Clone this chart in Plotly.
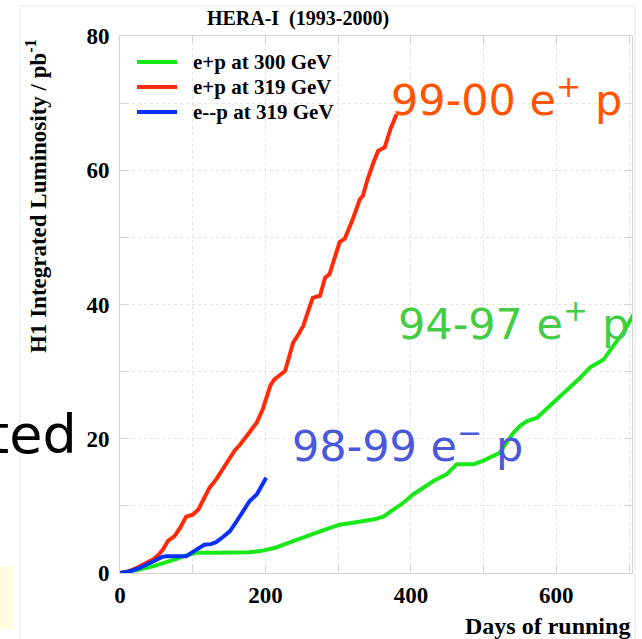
import plotly.graph_objects as go

# ---------------- data ----------------
red_days = [0, 8, 20, 36, 45, 52, 59, 66, 75, 83, 91, 100, 108, 115, 123, 132, 141, 151, 158,
            165, 176, 188, 196, 201, 207, 212, 220, 227, 232, 238, 245, 252, 258, 265, 275,
            282, 288, 295, 302, 309, 315, 320, 326, 330, 334, 340, 348, 355, 364, 368, 372,
            376, 380]
red_lumi = [0, 0.1, 0.6, 1.5, 2.0, 2.6, 3.5, 4.8, 5.5, 6.8, 8.4, 8.7, 9.5, 11.0, 12.7, 13.9,
            15.4, 17.2, 18.3, 19.1, 20.6, 22.4, 24.3, 25.9, 28.0, 28.8, 29.4, 30.1, 32.0, 34.3,
            35.5, 36.8, 38.8, 41.0, 41.3, 44.0, 44.5, 47.0, 49.3, 49.8, 51.3, 52.7, 54.5, 55.7,
            56.2, 58.5, 61.0, 62.9, 63.4, 65.0, 66.2, 67.2, 68.3]

blue_days = [0, 15, 27, 40, 50, 58, 64, 91, 98, 105, 116, 125, 132, 142, 151, 158, 165, 172,
             178, 188, 195, 201]
blue_lumi = [0, 0.3, 0.75, 1.5, 2.1, 2.4, 2.5, 2.5, 3.0, 3.5, 4.2, 4.3, 4.6, 5.4, 6.2, 7.3,
             8.4, 9.6, 10.7, 11.7, 13.0, 14.2]

green_days = [0, 15, 27, 45, 58, 68, 78, 87, 96, 105, 130, 155, 178, 195, 206, 215, 224, 235,
              247, 260, 275, 288, 302, 320, 334, 350, 362, 375, 390, 403, 416, 431, 449, 457,
              463, 475, 486, 499, 512, 522, 532, 541, 550, 559, 573, 584, 596, 608, 619, 632,
              646, 665, 678, 692, 706]
green_lumi = [0, 0.2, 0.5, 1.0, 1.4, 1.7, 2.1, 2.5, 2.8, 3.0, 3.0, 3.0, 3.1, 3.3, 3.5, 3.8,
              4.2, 4.6, 5.0, 5.6, 6.2, 6.7, 7.2, 7.5, 7.7, 8.0, 8.4, 9.4, 10.5, 11.7, 12.6,
              13.7, 14.7, 15.5, 16.2, 16.2, 16.2, 16.7, 17.4, 17.9, 19.5, 20.9, 21.9, 22.6,
              23.1, 24.2, 25.4, 26.5, 27.6, 29.0, 30.6, 31.8, 33.8, 35.8, 38.5]

series_names = ["e+p at 300 GeV", "e+p at 319 GeV", "e--p at 319 GeV"]
series_colors = ["#18e818", "#ff2a08", "#0a30ff"]
period_labels = ["99-00 e<sup>+</sup> p", "94-97 e<sup>+</sup> p", "98-99 e<sup>\u2212</sup> p"]
x_ticks = [0, 200, 400, 600]
y_ticks = [0, 20, 40, 60, 80]

# ---------------- layout geometry ----------------
W, H = 642, 639
L, R, T, B = 120, 10, 36, 66
PW, PH = W - L - R, H - T - B


def px(x):
    return (x - L) / PW


def py(y):
    return (H - B - y) / PH


serif = "Liberation Serif"

fig = go.Figure()
for xs, ys, nm, col in [(green_days, green_lumi, series_names[0], series_colors[0]),
                        (red_days, red_lumi, series_names[1], series_colors[1]),
                        (blue_days, blue_lumi, series_names[2], series_colors[2])]:
    fig.add_trace(go.Scatter(x=xs, y=ys, mode="lines", name=nm, showlegend=False,
                             line=dict(color=col, width=4)))

axis_common = dict(
    showline=True, linecolor="#d4d4d4", linewidth=1, mirror="allticks",
    ticks="inside", ticklen=8, tickcolor="#d4d4d4",
    showgrid=True, gridcolor="#e2e2e2", griddash="dot", gridwidth=1,
    zeroline=False,
    tickfont=dict(family=serif, size=23, color="black", weight="bold"),
)

fig.update_layout(
    width=W, height=H,
    margin=dict(l=L, r=R, t=T, b=B),
    paper_bgcolor="white", plot_bgcolor="white",
    title=dict(text="HERA-I  (1993-2000)", xref="paper", x=px(298), xanchor="center",
               yref="container", y=1 - 17.5 / H, yanchor="middle",
               font=dict(family=serif, size=20, color="black", weight="bold")),
    xaxis=dict(range=[0, 704], tickvals=x_ticks, ticklabelstandoff=1,
               minor=dict(dtick=100, ticks="inside", ticklen=8, tickcolor="#d4d4d4",
                          showgrid=True, gridcolor="#e2e2e2", griddash="dot"),
               **axis_common),
    yaxis=dict(range=[0, 80], tickvals=y_ticks, ticklabelstandoff=5,
               minor=dict(dtick=10, ticks="inside", ticklen=8, tickcolor="#d4d4d4",
                          showgrid=True, gridcolor="#e2e2e2", griddash="dot"),
               **axis_common),
    showlegend=False,
)

# legend (drawn by hand to match the compact row spacing)
legend_rows = [62, 87, 112]
for nm, col, ry in zip(series_names, series_colors, legend_rows):
    fig.add_shape(type="line", xref="paper", yref="paper", x0=px(137), x1=px(177),
                  y0=py(ry), y1=py(ry), line=dict(color=col, width=4))
    fig.add_annotation(text=nm, xref="paper", yref="paper", x=px(191), y=py(ry),
                       xanchor="left", yanchor="middle", showarrow=False,
                       font=dict(family=serif, size=21, color="black", weight="bold"))

# outer slide frame and yellow box
fig.add_shape(type="line", xref="paper", yref="paper", x0=px(20), x1=px(20), y0=py(6), y1=py(H),
              line=dict(color="#e6e6e6", width=1), layer="below")
fig.add_shape(type="line", xref="paper", yref="paper", x0=px(20), x1=px(634), y0=py(6), y1=py(6),
              line=dict(color="#e6e6e6", width=1), layer="below")
fig.add_shape(type="line", xref="paper", yref="paper", x0=px(635), x1=px(635), y0=py(6), y1=py(H),
              line=dict(color="#e6e6e6", width=1), layer="below")
fig.add_shape(type="rect", xref="paper", yref="paper", x0=px(0), x1=px(13), y0=py(629), y1=py(566),
              line=dict(width=0), fillcolor="#fffbdf", layer="below")

# axis titles
fig.add_annotation(text="H1 Integrated Luminosity / pb<sup>-1</sup>", textangle=-90,
                   xref="paper", yref="paper", x=px(36), y=py(196),
                   xanchor="center", yanchor="middle", showarrow=False,
                   font=dict(family=serif, size=23, color="black", weight="bold"))
fig.add_annotation(text="Days of running", xref="paper", yref="paper", x=px(632), y=py(626),
                   xanchor="right", yanchor="middle", showarrow=False,
                   font=dict(family=serif, size=24, color="black", weight="bold"))

# period labels
comic = "DejaVu Sans"
fig.add_annotation(text=period_labels[0], xref="paper", yref="paper", x=px(389), y=py(97),
                   xanchor="left", yanchor="middle", showarrow=False,
                   font=dict(family=comic, size=43, color="#ff5500"))
fig.add_annotation(text=period_labels[1], xref="paper", yref="paper", x=px(396), y=py(321),
                   xanchor="left", yanchor="middle", showarrow=False,
                   font=dict(family=comic, size=43, color="#44cc44"))
fig.add_annotation(text=period_labels[2], xref="paper", yref="paper", x=px(290), y=py(443),
                   xanchor="left", yanchor="middle", showarrow=False,
                   font=dict(family=comic, size=43, color="#4a58dc"))

# slide text fragment at the left
fig.add_annotation(text="ted", xref="paper", yref="paper", x=px(79), y=py(435),
                   xanchor="right", yanchor="middle", showarrow=False,
                   font=dict(family=comic, size=54, color="black"))

fig.write_html("out.html")
